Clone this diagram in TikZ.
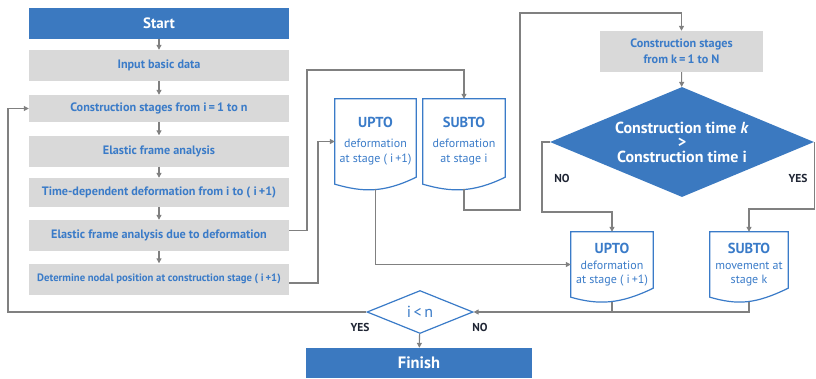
\documentclass[tikz,border=0pt]{standalone}
\usepackage{fontspec}
\setmainfont{PT Sans}
\usetikzlibrary{arrows.meta,shapes.geometric,calc}
\definecolor{mblue}{HTML}{3B79C0}
\definecolor{tblue}{HTML}{3A7BC8}
\definecolor{bgray}{HTML}{D9D9D9}
\definecolor{lgray}{HTML}{808080}
\definecolor{lbl}{HTML}{1E2433}
\newcommand\titfont{\bfseries\fontsize{14.5}{16}\selectfont}
\newcommand\docwave[2]{%
  \draw[docline] (#1.south west) -- (#1.north west) -- (#1.north east) -- ([yshift=#2]#1.south east)
    .. controls +(-33pt,-16pt) and +(28pt,-8pt) .. (#1.south west) -- cycle;}
\begin{document}
\begin{tikzpicture}[x=1pt,y=-1pt,
  bluebox/.style={fill=mblue, text=white, font=\bfseries\fontsize{15}{17}\selectfont, minimum width=260pt, minimum height=31pt, inner sep=0pt},
  graybox/.style={fill=bgray, text=tblue, font=\bfseries\fontsize{12.2}{14}\selectfont, minimum width=260pt, minimum height=29pt, inner sep=0pt},
  docnode/.style={text=tblue, align=center, font=\fontsize{12}{15}\selectfont, inner sep=0pt, minimum width=82pt, minimum height=85pt},
  docline/.style={draw=tblue, line width=1.2pt},
  conn/.style={draw=lgray, line width=1.1pt},
  arr/.style={conn, -{Triangle[length=5pt,width=5pt]}},
  yn/.style={text=lbl, font=\bfseries\fontsize{11.5}{13}\selectfont}
]
\useasboundingbox (0,0) rectangle (816,378);

% left column
\node[bluebox] (start) at (159,23.5) {Start};
\node[graybox, minimum height=31pt] (input) at (159,65.5) {Input basic data};
\node[graybox, minimum height=27pt] (consi) at (159,108.5) {Construction stages from i\,=\,1 to n};
\node[graybox, minimum height=31pt] (efa) at (159,151) {Elastic frame analysis};
\node[graybox] (tdd) at (159,192.5) {Time-dependent deformation from i to ( i\,+1)};
\node[graybox, minimum height=31pt] (efad) at (159,235.5) {Elastic frame analysis due to deformation};
\node[graybox, minimum height=31pt, font=\bfseries\fontsize{10.7}{13}\selectfont] (det) at (159,279) {Determine nodal position at construction stage ( i\,+1)};

\draw[arr] (start) -- (input);
\draw[arr] (input) -- (consi);
\draw[arr] (consi) -- (efa);
\draw[arr] (efa) -- (tdd);
\draw[arr] (tdd) -- (efad);
\draw[arr] (efad) -- (det);

% documents
\node[docnode, minimum width=81pt] (u1) at (375.5,141.5) {{\titfont UPTO}\\[5pt]deformation\\at stage ( i\,+1)};
\node[docnode, minimum width=82pt] (s1) at (464,141.5) {{\titfont SUBTO}\\[5pt]deformation\\at stage i};
\node[docnode, minimum width=82pt, minimum height=65pt, font=\fontsize{12}{14}\selectfont] (u2) at (612,264.5) {{\titfont UPTO}\\[2pt]deformation\\at stage ( i\,+1)};
\node[docnode, minimum width=78pt, minimum height=65pt, font=\fontsize{12}{14}\selectfont] (s2) at (749,264.5) {{\titfont SUBTO}\\[2pt]movement at\\stage k};
\docwave{u1}{7pt}
\docwave{s1}{7pt}
\docwave{u2}{9pt}
\docwave{s2}{9pt}

% right part
\node[graybox, minimum width=163pt, minimum height=41pt, align=center, font=\bfseries\fontsize{12.2}{16}\selectfont] (ck) at (681.5,51.5) {Construction stages\\from k\,=\,1 to N};
\node[diamond, fill=mblue, text=white, inner sep=0pt, shape aspect=2.4, minimum width=264pt, minimum height=110pt, align=center, font=\bfseries\fontsize{16}{14.5}\selectfont] (dk) at (682,142) {Construction time \textit{k}\\>\\Construction time i};
\node[diamond, draw=tblue, line width=1.2pt, fill=white, text=tblue, inner sep=0pt, shape aspect=2.4, minimum width=106pt, minimum height=43pt, font=\fontsize{16}{18}\selectfont] (ilt) at (420,312) {i\,<\,n};
\node[bluebox, minimum width=226pt, minimum height=30pt, font=\bfseries\fontsize{16.5}{18}\selectfont] (fin) at (419,363) {Finish};

\node[yn] (no1) at (562,178) {NO};
\node[yn] (yes1) at (798,178) {YES};
\node[yn] (yes2) at (360,327) {YES};
\node[yn] (no2) at (480,327) {NO};

% connectors
\coordinate (lb) at (8,312);
\draw[arr] (ilt.west) -- (lb) |- (consi.west);
\draw[arr] ([yshift=5pt]efad.east) -- (307,230.5) -- (307,70) -| (s1.north);
\draw[arr] ([yshift=-4pt]det.east) -- (318,283) |- (u1.west);
\draw[arr] ([yshift=-5pt]u1.south) |- (u2.west);
\draw[arr] ([yshift=-5pt]s1.south) |- (520,210) -- (520,13) -| (ck.north);
\draw[arr] (ck) -- (dk);
\draw[arr] (dk.west) -| (542,212) -| (u2.north);
\draw[arr] (dk.east) -- (dk.east |- 0,209) -| (s2.north);
\draw[arr] ([yshift=-5pt]s2.south) |- (ilt.east);
\draw[conn] ([yshift=-5pt]u2.south) -- (u2.south |- ilt.east);
\draw[arr] (ilt) -- (fin);
\end{tikzpicture}
\end{document}
